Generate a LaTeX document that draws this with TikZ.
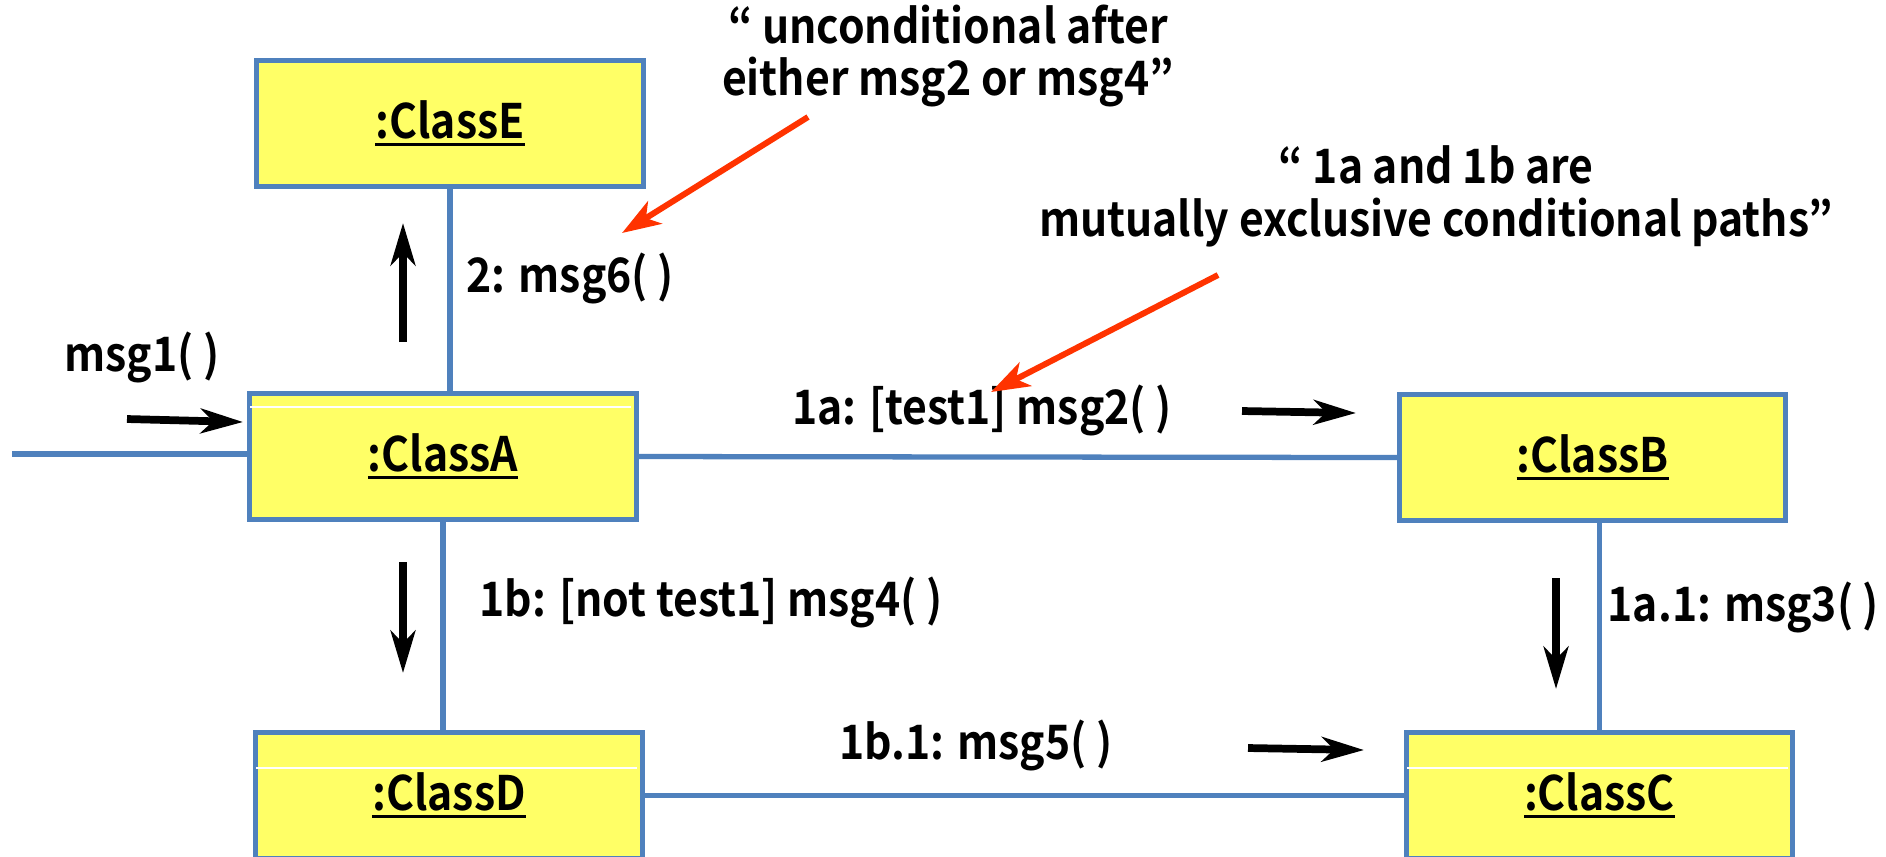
\documentclass[tikz,border=0pt]{standalone}
\usepackage{fontspec}
\setmainfont{Noto Sans CJK KR}[BoldFont={Noto Sans CJK KR Bold},FakeStretch=0.9]
\usetikzlibrary{arrows.meta}
\definecolor{boxblue}{HTML}{4F81BD}
\definecolor{boxyellow}{HTML}{FFFF66}
\definecolor{notered}{HTML}{FF3300}
\newcommand{\objname}[1]{\setbox0=\hbox{#1}\rlap{\copy0}\rule[-2pt]{\wd0}{0.9pt}}
\begin{document}
\begin{tikzpicture}
[x=0.01cm,y=-0.01cm,
  every node/.style={font=\bfseries\fontsize{13.5}{15}\selectfont},
  classdecorate/.style={shape=rectangle,draw=boxblue,fill=boxyellow,line width=1.4pt,
    minimum width=3.86cm,minimum height=1.26cm,inner sep=0pt},
  labeldecorate/.style={inner sep=0pt},
  linedecorate/.style={-,draw=boxblue,line width=1.5pt},
  msgdecorate/.style={-{Stealth[length=12pt,width=7pt,inset=3.5pt]},line width=2.2pt},
  notedecorate/.style={-{Stealth[length=11pt,width=7.5pt,inset=3pt]},draw=notered,line width=1.7pt}]
\useasboundingbox (0,0) rectangle (1886,856);
\clip (0,0) rectangle (1886,856);
%% objects
\foreach \nodename/\x/\y in {E/450/123.5, A/443/456.5, B/1592.5/457.5,
  D/449/795.5, C/1599.5/795.5}
{
  \node (\nodename) at (\x,\y) [classdecorate] {\objname{:Class\nodename}};
}
%% faint rules inside the boxes
\foreach \nodename/\dy in {A/16, D/38, C/38}
{
  \draw[white,line width=0.5pt] ([xshift=0.8pt]\nodename.north west) ++(0,\dy) -- ++(381,0);
}
%% links
\coordinate (entry) at (12,454);
\draw[linedecorate] (entry) -- (entry -| A.west);
\draw[linedecorate] (E.south) -- (E.south |- A.north);
\draw[linedecorate] (A.south) -- (A.south |- D.north);
\draw[linedecorate] (A.east) -- (B.west);
\draw[linedecorate] (C.north |- B.south) -- (C.north);
\draw[linedecorate] (D.east) -- (C.west);
%% message labels
\node[labeldecorate] (m1) at (142,357) {msg1( )};
\node[labeldecorate,anchor=west] (m6) at (466,278) {2: msg6( )};
\node[labeldecorate] (m2) at (982,410) {1a: [test1] msg2( )};
\node[labeldecorate,anchor=west] (m4) at (479,602) {1b: [not test1] msg4( )};
\node[labeldecorate,anchor=west] (m3) at (1607,607) {1a.1: msg3( )};
\node[labeldecorate] (m5) at (976,745) {1b.1: msg5( )};
%% notes
\node[labeldecorate,align=center] (note1) at (948,56)
  {“ unconditional after\\either msg2 or msg4”};
\node[labeldecorate,align=center] (note2) at (1436,196)
  {“ 1a and 1b are\\mutually exclusive conditional paths”};
%% message arrows
\foreach \name/\x/\y/\u/\v in {a1/127/419/243/422, a6/403/342/403/223,
  a2/1242/411/1356/413, a4/403/562/403/673, a3/1556/578/1556/689,
  a5/1248/748/1364/750}
{
  \coordinate (\name s) at (\x,\y);
  \coordinate (\name e) at (\u,\v);
  \draw[msgdecorate] (\name s) -- (\name e);
}
%% note arrows
\foreach \name/\x/\y/\u/\v in {n1/808/117/622/233, n2/1218/275/991/392}
{
  \coordinate (\name s) at (\x,\y);
  \coordinate (\name e) at (\u,\v);
  \draw[notedecorate] (\name s) -- (\name e);
}
\end{tikzpicture}
\end{document}
